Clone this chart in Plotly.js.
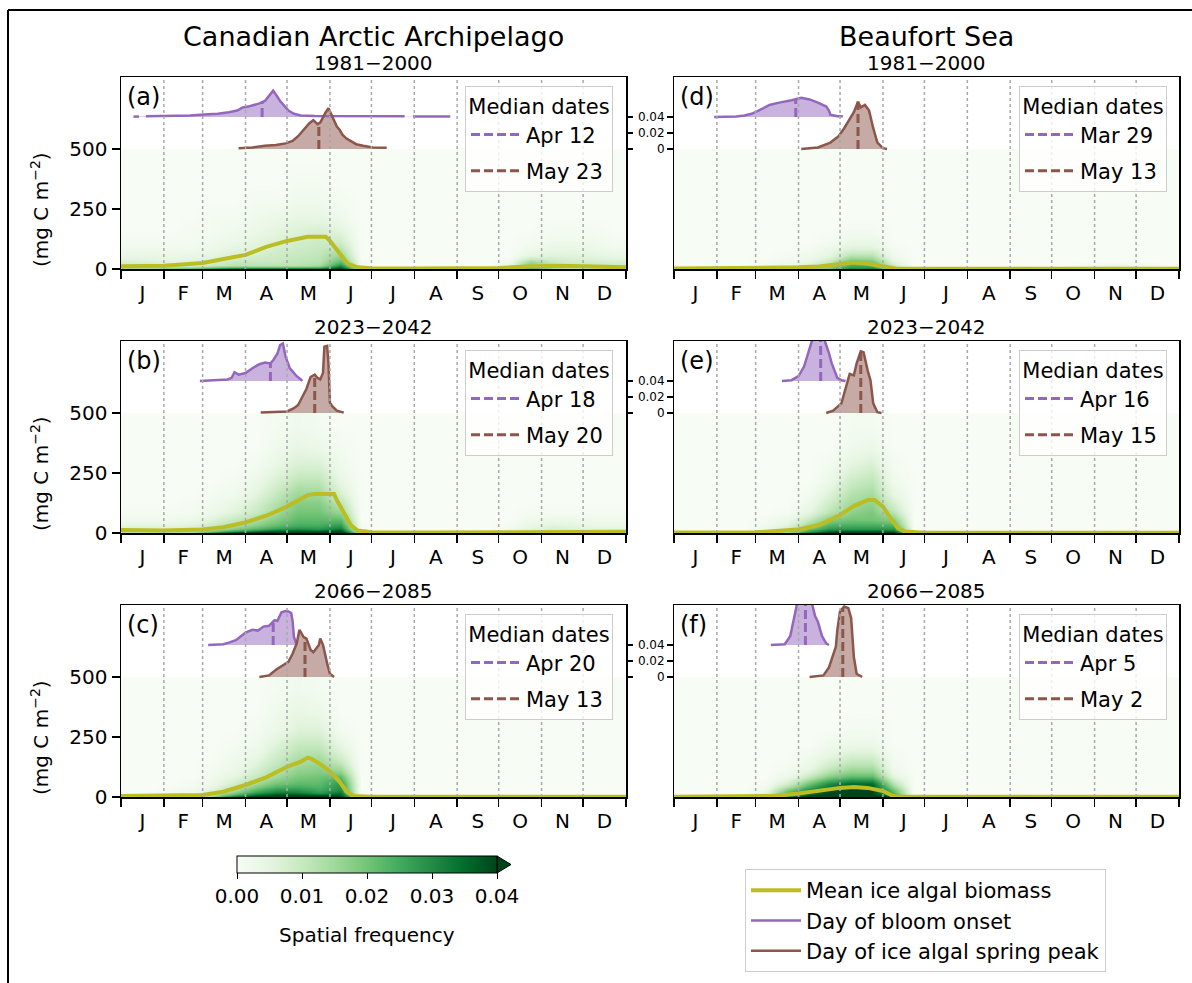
<!DOCTYPE html>
<html>
<head>
<meta charset="utf-8">
<script src="https://cdn.plot.ly/plotly-3.0.1.min.js"></script>
<style>html,body{margin:0;padding:0;background:#fff;}#chart{width:1192px;height:983px;}</style>
</head>
<body>
<div id="chart"></div>
<script>
// ---------------- DATA ----------------
const monthStarts = [0,31,59,90,120,151,181,212,243,273,304,334,365];
const monthLabels = ['J','F','M','A','M','J','J','A','S','O','N','D'];
const regionTitles = ['Canadian Arctic Archipelago','Beaufort Sea'];
const periodTitles = ['1981\u22122000','2023\u22122042','2066\u22122085'];
const panelLetters = ['(a)','(b)','(c)','(d)','(e)','(f)'];
const colorbarTitle = 'Spatial frequency';

// heatmap bin edges (day of year, biomass mg C m-2)
const heatDayEdges = [0,15,31,45,59,74,90,105,120,135,151,166,181,196,212,227,243,258,273,288,304,319,334,349,365];
const heatBiomassEdges = [0,8,20,40,70,100,140,190,250,320,400,500];

// spatial frequency (x 1e-3), rows = biomass bins (bottom to top), cols = half-month bins
const freqA = [
 [15,15,18,20,25,30,30,30,30,30,40,8,3,3,3,3,3,3,8,25,15,12,12,12],
 [10,10,8,8,10,12,12,12,12,14,30,2,0,0,0,0,0,0,5,20,12,10,10,10],
 [7,6,5,6,8,10,10,10,11,12,22,1,0,0,0,0,0,0,2,15,10,8,8,7],
 [4,4,3,4,5,7,8,9,10,11,16,0,0,0,0,0,0,0,0,5,6,6,5,4],
 [2,2,2,2,3,5,6,8,9,10,12,0,0,0,0,0,0,0,0,2,4,4,3,2],
 [1,1,1,1,2,3,5,6,8,9,8,0,0,0,0,0,0,0,0,1,2,2,2,1],
 [0,0,0,1,1,2,3,5,6,7,5,0,0,0,0,0,0,0,0,0,1,1,1,0],
 [0,0,0,0,1,1,2,3,4,4,2,0,0,0,0,0,0,0,0,0,0,0,0,0],
 [0,0,0,0,0,0,1,1,2,2,1,0,0,0,0,0,0,0,0,0,0,0,0,0],
 [0,0,0,0,0,0,0,0,1,1,0,0,0,0,0,0,0,0,0,0,0,0,0,0],
 [0,0,0,0,0,0,0,0,0,0,0,0,0,0,0,0,0,0,0,0,0,0,0,0]
];
const freqB = [
 [12,12,12,15,25,35,40,45,45,45,45,8,3,3,3,3,3,3,3,5,8,8,8,8],
 [8,8,8,10,14,20,25,30,32,30,35,2,0,0,0,0,0,0,2,6,8,7,6,6],
 [5,5,5,6,10,14,18,22,25,25,28,1,0,0,0,0,0,0,1,4,6,5,4,4],
 [2,2,2,3,6,10,14,18,22,22,22,0,0,0,0,0,0,0,0,2,3,3,2,2],
 [1,1,1,1,3,6,10,15,20,20,16,0,0,0,0,0,0,0,0,1,1,1,1,1],
 [0,0,0,1,2,4,8,13,18,18,12,0,0,0,0,0,0,0,0,0,0,0,0,0],
 [0,0,0,0,1,2,5,10,15,15,7,0,0,0,0,0,0,0,0,0,0,0,0,0],
 [0,0,0,0,0,1,3,7,11,11,4,0,0,0,0,0,0,0,0,0,0,0,0,0],
 [0,0,0,0,0,0,1,4,7,7,2,0,0,0,0,0,0,0,0,0,0,0,0,0],
 [0,0,0,0,0,0,0,2,4,3,1,0,0,0,0,0,0,0,0,0,0,0,0,0],
 [0,0,0,0,0,0,0,1,2,1,0,0,0,0,0,0,0,0,0,0,0,0,0,0]
];
const freqC = [
 [3,3,3,5,15,30,40,45,45,45,40,5,2,2,2,2,2,2,2,2,2,2,2,2],
 [1,1,2,3,10,20,30,35,35,30,35,1,0,0,0,0,0,0,0,0,0,0,0,0],
 [0,0,1,2,6,14,22,28,28,25,30,0,0,0,0,0,0,0,0,0,0,0,0,0],
 [0,0,0,1,3,8,15,20,22,22,28,0,0,0,0,0,0,0,0,0,0,0,0,0],
 [0,0,0,0,2,5,10,15,19,20,22,0,0,0,0,0,0,0,0,0,0,0,0,0],
 [0,0,0,0,1,3,7,12,16,17,14,0,0,0,0,0,0,0,0,0,0,0,0,0],
 [0,0,0,0,0,2,4,9,13,14,8,0,0,0,0,0,0,0,0,0,0,0,0,0],
 [0,0,0,0,0,1,2,6,10,10,4,0,0,0,0,0,0,0,0,0,0,0,0,0],
 [0,0,0,0,0,0,1,3,6,6,1,0,0,0,0,0,0,0,0,0,0,0,0,0],
 [0,0,0,0,0,0,0,2,4,3,0,0,0,0,0,0,0,0,0,0,0,0,0,0],
 [0,0,0,0,0,0,0,1,2,1,0,0,0,0,0,0,0,0,0,0,0,0,0,0]
];
const freqD = [
 [5,5,5,5,8,10,15,20,30,30,15,3,2,2,2,2,2,2,3,5,8,8,5,5],
 [0,0,0,0,2,4,8,15,25,25,10,0,0,0,0,0,0,0,0,2,4,4,2,1],
 [0,0,0,0,1,2,4,10,22,20,5,0,0,0,0,0,0,0,0,0,0,0,0,0],
 [0,0,0,0,0,1,2,5,12,12,2,0,0,0,0,0,0,0,0,0,0,0,0,0],
 [0,0,0,0,0,0,1,3,6,6,1,0,0,0,0,0,0,0,0,0,0,0,0,0],
 [0,0,0,0,0,0,0,1,3,3,0,0,0,0,0,0,0,0,0,0,0,0,0,0],
 [0,0,0,0,0,0,0,0,1,1,0,0,0,0,0,0,0,0,0,0,0,0,0,0],
 [0,0,0,0,0,0,0,0,0,0,0,0,0,0,0,0,0,0,0,0,0,0,0,0],
 [0,0,0,0,0,0,0,0,0,0,0,0,0,0,0,0,0,0,0,0,0,0,0,0],
 [0,0,0,0,0,0,0,0,0,0,0,0,0,0,0,0,0,0,0,0,0,0,0,0],
 [0,0,0,0,0,0,0,0,0,0,0,0,0,0,0,0,0,0,0,0,0,0,0,0]
];
const freqE = [
 [2,2,2,2,8,15,30,40,45,45,40,5,2,2,2,2,2,2,2,2,2,2,2,2],
 [0,0,0,0,4,10,22,30,30,30,30,1,0,0,0,0,0,0,0,0,0,0,0,0],
 [0,0,0,0,2,6,16,24,25,25,24,0,0,0,0,0,0,0,0,0,0,0,0,0],
 [0,0,0,0,1,3,10,18,20,20,18,0,0,0,0,0,0,0,0,0,0,0,0,0],
 [0,0,0,0,0,1,5,12,17,19,12,0,0,0,0,0,0,0,0,0,0,0,0,0],
 [0,0,0,0,0,0,3,9,15,17,8,0,0,0,0,0,0,0,0,0,0,0,0,0],
 [0,0,0,0,0,0,1,6,12,14,4,0,0,0,0,0,0,0,0,0,0,0,0,0],
 [0,0,0,0,0,0,0,3,9,11,2,0,0,0,0,0,0,0,0,0,0,0,0,0],
 [0,0,0,0,0,0,0,1,5,7,1,0,0,0,0,0,0,0,0,0,0,0,0,0],
 [0,0,0,0,0,0,0,0,2,3,0,0,0,0,0,0,0,0,0,0,0,0,0,0],
 [0,0,0,0,0,0,0,0,1,1,0,0,0,0,0,0,0,0,0,0,0,0,0,0]
];
const freqF = [
 [2,2,2,2,10,30,40,45,45,45,35,3,2,2,2,2,2,2,2,2,2,2,2,2],
 [0,0,0,0,6,25,35,40,40,40,25,0,0,0,0,0,0,0,0,0,0,0,0,0],
 [0,0,0,0,3,18,30,38,40,40,20,0,0,0,0,0,0,0,0,0,0,0,0,0],
 [0,0,0,0,1,8,20,30,35,35,12,0,0,0,0,0,0,0,0,0,0,0,0,0],
 [0,0,0,0,0,3,10,18,22,22,5,0,0,0,0,0,0,0,0,0,0,0,0,0],
 [0,0,0,0,0,1,4,10,14,14,2,0,0,0,0,0,0,0,0,0,0,0,0,0],
 [0,0,0,0,0,0,2,5,8,8,1,0,0,0,0,0,0,0,0,0,0,0,0,0],
 [0,0,0,0,0,0,0,2,3,3,0,0,0,0,0,0,0,0,0,0,0,0,0,0],
 [0,0,0,0,0,0,0,0,1,1,0,0,0,0,0,0,0,0,0,0,0,0,0,0],
 [0,0,0,0,0,0,0,0,0,0,0,0,0,0,0,0,0,0,0,0,0,0,0,0],
 [0,0,0,0,0,0,0,0,0,0,0,0,0,0,0,0,0,0,0,0,0,0,0,0]
];

// mean ice algal biomass (mg C m-2)
const meanDaysA = [0,31,59,74,90,105,120,135,148,151,158,164,171,181,212,243,273,293,314,334,365];
const meanValsA = [11,14,25,42,59,92,117,134,134,117,64,21,7,3,2,2,4,10,14,11,7];
const meanDaysB = [0,31,59,74,90,105,120,135,140,154,156,161,166,171,181,212,243,273,304,334,365];
const meanValsB = [12,10,15,24,44,72,110,158,162,162,137,82,33,10,3,2,2,3,6,6,5];
const meanDaysC = [0,31,59,74,90,105,120,130,135,138,145,151,158,163,168,181,365];
const meanValsC = [4,4,8,22,50,82,126,147,164,158,133,106,64,22,4,1,1];
const meanDaysD = [0,59,74,90,105,120,130,140,151,160,170,273,304,320,334,365];
const meanValsD = [2,3,4,7,10,20,27,22,10,2,1,1,2,3,2,1];
const meanDaysE = [0,59,79,90,105,120,130,140,145,151,157,162,167,181,365];
const meanValsE = [2,3,10,15,33,75,112,137,137,110,57,19,6,1,1];
const meanDaysF = [0,59,74,90,105,120,130,140,151,157,162,181,365];
const meanValsF = [1,2,5,15,28,38,42,38,25,8,1,1,1];

// distribution of day of bloom onset (probability density)
const onsetDaysA = [9,13,15,18,25,40,50,60,70,78,84,88,92,96,100,104,107,110,112,115,118,121,125,130,140,160,180,205,208,211,225,238];
const onsetDensA = [0.0005,0.0005,null,0.0008,0.001,0.0012,0.002,0.003,0.004,0.006,0.008,0.012,0.013,0.015,0.017,0.020,0.026,0.033,0.028,0.020,0.014,0.008,0.004,0.002,0.0012,0.001,0.0008,0.0008,null,0.0007,0.0006,0.0006];
const onsetDaysB = [57,65,72,77,80,82,85,90,95,100,104,108,110,113,115,117,119,122,124,127,130,131];
const onsetDensB = [0.0,0.001,0.001,0.002,0.004,0.011,0.008,0.010,0.016,0.021,0.023,0.022,0.026,0.034,0.045,0.047,0.030,0.016,0.012,0.006,0.002,0.0];
const onsetDaysC = [63,70,74,78,83,86,88,90,95,99,103,107,111,113,116,119,121,123,124,125,127];
const onsetDensC = [0.0,0.001,0.001,0.003,0.006,0.010,0.0125,0.0155,0.019,0.018,0.023,0.024,0.031,0.030,0.041,0.0425,0.042,0.040,0.030,0.010,0.0];
const onsetDaysD = [29,45,51,56,60,65,69,76,80,85,92,98,104,108,110,112,113,118,122];
const onsetDensD = [0.0,0.0005,0.002,0.004,0.007,0.011,0.015,0.018,0.019,0.021,0.024,0.022,0.018,0.015,0.013,0.008,0.003,0.001,0.001];
const onsetDaysE = [78,85,90,94,97,100,103,106,109,112,114,118,121,124];
const onsetDensE = [0.0,0.001,0.006,0.018,0.035,0.052,0.062,0.060,0.050,0.035,0.022,0.004,0.001,0.0];
const onsetDaysF = [70,80,84,87,89,92,95,98,100,102,104,107,110,112];
const onsetDensF = [0.0,0.001,0.011,0.036,0.052,0.062,0.065,0.060,0.050,0.036,0.029,0.011,0.002,0.0];

// distribution of day of ice algal spring peak (probability density)
const peakDaysA = [85,95,104,112,119,124,128,132,136,139,142,144,146,148,150,152,154,156,158,160,163,166,170,175,182,192];
const peakDensA = [0.001,0.002,0.004,0.005,0.007,0.010,0.016,0.024,0.032,0.036,0.031,0.033,0.040,0.046,0.051,0.044,0.036,0.028,0.024,0.018,0.013,0.010,0.006,0.004,0.002,0.0015];
const peakDaysB = [101,112,120,125,128,131,134,137,140,142,144,146,147,149,150,151,153,156,161];
const peakDensB = [0.0005,0.001,0.002,0.006,0.010,0.020,0.030,0.045,0.048,0.044,0.042,0.050,0.083,0.084,0.060,0.013,0.008,0.003,0.0005];
const peakDaysC = [100,107,112,117,121,124,127,129,132,134,137,139,143,144,146,149,151,154];
const peakDensC = [0.0,0.002,0.009,0.015,0.019,0.029,0.042,0.059,0.050,0.048,0.034,0.031,0.040,0.048,0.040,0.017,0.004,0.0];
const peakDaysD = [92,104,113,119,123,128,130,133,135,138,141,144,147,151,154];
const peakDensD = [0.0,0.002,0.008,0.016,0.026,0.040,0.046,0.059,0.052,0.055,0.048,0.026,0.008,0.001,0.0];
const peakDaysE = [110,115,121,124,127,130,132,135,137,140,142,144,147,150];
const peakDensE = [0.0,0.003,0.012,0.032,0.049,0.047,0.062,0.077,0.076,0.053,0.041,0.012,0.001,0.0];
const peakDaysF = [98,108,112,114,117,118,120,123,126,128,130,132,136];
const peakDensF = [0.0,0.002,0.012,0.023,0.038,0.058,0.082,0.088,0.086,0.074,0.025,0.004,0.0];

// median dates
const onsetMedianDays = [102,108,110,88,106,95];
const onsetMedianLabels = ['Apr 12','Apr 18','Apr 20','Mar 29','Apr 16','Apr 5'];
const peakMedianDays = [143,140,133,133,135,122];
const peakMedianLabels = ['May 23','May 20','May 13','May 13','May 15','May 2'];
const onsetOffset = 0.04; // onset distributions stacked above the peak distributions

const seriesNames = ['Mean ice algal biomass','Day of bloom onset','Day of ice algal spring peak'];

// ---------------- STYLE / LAYOUT ----------------
const W = 1192, H = 983;
const FONT = 'DejaVu Sans, Liberation Sans, sans-serif';
const FS = 20, LFS = 21;
const OLIVE = '#bcbd22', PURPLE = '#9467bd', BROWN = '#8c564b';
const greens = [[0,'#f7fcf5'],[0.125,'#e5f5e0'],[0.25,'#c7e9c0'],[0.375,'#a1d99b'],[0.5,'#74c476'],[0.625,'#41ab5d'],[0.75,'#238b45'],[0.875,'#006d2c'],[1,'#00441b']];
const px = p => p / W, py = p => 1 - p / H;

const colX = [[121,626],[674,1179]];
const rowY = [[77,269],[341,533],[605,797]];

const freqs = [freqA,freqB,freqC,freqD,freqE,freqF];
const meanD = [meanDaysA,meanDaysB,meanDaysC,meanDaysD,meanDaysE,meanDaysF];
const meanV = [meanValsA,meanValsB,meanValsC,meanValsD,meanValsE,meanValsF];
const onD = [onsetDaysA,onsetDaysB,onsetDaysC,onsetDaysD,onsetDaysE,onsetDaysF];
const onV = [onsetDensA,onsetDensB,onsetDensC,onsetDensD,onsetDensE,onsetDensF];
const pkD = [peakDaysA,peakDaysB,peakDaysC,peakDaysD,peakDaysE,peakDaysF];
const pkV = [peakDensA,peakDensB,peakDensC,peakDensD,peakDensE,peakDensF];

function valueAt(days, vals, d) {
  for (let k = 0; k < days.length - 1; k++) {
    if (vals[k] == null || vals[k+1] == null) continue;
    if (days[k] <= d && d <= days[k+1]) {
      const t = (d - days[k]) / (days[k+1] - days[k]);
      return vals[k] + t * (vals[k+1] - vals[k]);
    }
  }
  return 0;
}

const data = [];
const layout = {
  width: W, height: H, margin: {l:0,r:0,t:0,b:0},
  paper_bgcolor: '#fff', plot_bgcolor: '#fff',
  font: {family: FONT, color: '#000', size: FS},
  showlegend: true, shapes: [], annotations: []
};

const monthMids = monthLabels.map((_, i) => (monthStarts[i] + monthStarts[i+1]) / 2);
const legendNames = ['legend','legend2','legend3','legend4','legend5','legend6'];

for (let i = 0; i < 6; i++) {
  const col = i < 3 ? 0 : 1, row = i % 3;
  const n = i + 1, nd = i + 7;
  const xa = n === 1 ? 'x' : 'x' + n;
  const ya = n === 1 ? 'y' : 'y' + n;
  const yd = 'y' + nd;
  const xDom = [px(colX[col][0]), px(colX[col][1])];
  const yDom = [py(rowY[row][1]), py(rowY[row][0])];

  layout[n === 1 ? 'xaxis' : 'xaxis' + n] = {
    domain: xDom, anchor: ya, range: [0, 365], fixedrange: true,
    tickmode: 'array', tickvals: monthMids, ticktext: monthLabels, ticks: '',
    tickfont: {size: FS, color: '#000'}, ticklabelstandoff: 5,
    minor: {tickmode: 'array', tickvals: monthStarts, ticks: 'outside', ticklen: 8, tickwidth: 1.5, tickcolor: '#000', showgrid: false},
    showgrid: false, zeroline: false, showline: true, linecolor: '#000', linewidth: 1.5, mirror: true
  };
  layout[n === 1 ? 'yaxis' : 'yaxis' + n] = {
    domain: yDom, anchor: xa, range: [0, 800], fixedrange: true,
    tickmode: 'array', tickvals: [0, 250, 500], ticks: col === 0 ? 'outside' : '', ticklen: 8, tickwidth: 1.5, tickcolor: '#000',
    showticklabels: col === 0, tickfont: {size: FS, color: '#000'},
    showgrid: false, zeroline: false, showline: true, linecolor: '#000', linewidth: 1.5, mirror: true
  };
  layout['yaxis' + nd] = {
    overlaying: ya, anchor: xa, side: col === 0 ? 'right' : 'left', range: [-0.15, 0.09], fixedrange: true,
    tickmode: 'array', tickvals: [0, 0.02, 0.04], ticktext: ['0', '0.02', '0.04'],
    ticks: 'outside', ticklen: 6, tickwidth: 1.2, tickcolor: '#000',
    showticklabels: col === 1, tickfont: {size: 12, color: '#000'},
    showgrid: false, zeroline: false, showline: false
  };

  // heatmap of spatial frequency
  data.push({
    type: 'heatmap', xaxis: xa, yaxis: ya,
    x: heatDayEdges, y: heatBiomassEdges,
    z: freqs[i].map(r => r.map(v => v / 1000)),
    zmin: 0, zmax: 0.04, zsmooth: 'best', colorscale: greens,
    showscale: i === 0, hoverinfo: 'skip', showlegend: false,
    colorbar: {
      orientation: 'h', x: px(367), xanchor: 'center', len: 260 / W, lenmode: 'fraction',
      thickness: 17, y: py(856), yanchor: 'top', xpad: 0, ypad: 0,
      outlinewidth: 1, outlinecolor: '#000',
      tickmode: 'array', tickvals: [0, 0.01, 0.02, 0.03, 0.04], ticktext: ['0.00','0.01','0.02','0.03','0.04'],
      ticks: 'outside', ticklen: 6, tickcolor: '#000', tickfont: {size: FS, color: '#000', family: FONT}
    }
  });

  // mean biomass
  data.push({
    type: 'scatter', mode: 'lines', xaxis: xa, yaxis: ya,
    x: meanD[i], y: meanV[i], line: {color: OLIVE, width: 4},
    name: seriesNames[0], legend: 'legend7', legendgroup: 'mean', showlegend: i === 0, hoverinfo: 'skip'
  });

  // distributions: fill polygons
  const dists = [
    {days: pkD[i], vals: pkV[i], off: 0, color: BROWN, fill: 'rgba(140,86,75,0.5)', name: seriesNames[2], grp: 'peak', med: peakMedianDays[i], lab: peakMedianLabels[i]},
    {days: onD[i], vals: onV[i], off: onsetOffset, color: PURPLE, fill: 'rgba(148,103,189,0.5)', name: seriesNames[1], grp: 'onset', med: onsetMedianDays[i], lab: onsetMedianLabels[i]}
  ];
  dists.forEach(ds => {
    const fx = [], fy = [];
    ds.days.forEach((d, k) => { if (ds.vals[k] != null) { fx.push(d); fy.push(ds.vals[k] + ds.off); } });
    const polyX = fx.concat([fx[fx.length - 1], fx[0]]);
    const polyY = fy.concat([ds.off, ds.off]);
    data.push({type: 'scatter', mode: 'lines', xaxis: xa, yaxis: yd, x: polyX, y: polyY,
      fill: 'toself', fillcolor: ds.fill, line: {width: 0}, showlegend: false, hoverinfo: 'skip'});
  });
  // distribution outlines (onset first for legend order)
  [dists[1], dists[0]].forEach(ds => {
    data.push({type: 'scatter', mode: 'lines', xaxis: xa, yaxis: yd,
      x: ds.days, y: ds.vals.map(v => v == null ? null : v + ds.off), connectgaps: false,
      line: {color: ds.color, width: 2.5}, name: ds.name, legend: 'legend7', legendgroup: ds.grp,
      showlegend: i === 0, hoverinfo: 'skip'});
  });
  // median lines
  [dists[1], dists[0]].forEach((ds, k) => {
    const top = valueAt(ds.days, ds.vals, ds.med);
    data.push({type: 'scatter', mode: 'lines', xaxis: xa, yaxis: yd,
      x: [ds.med, ds.med], y: [ds.off, ds.off + top],
      line: {color: ds.color, width: 3, dash: '9px,4px'}, name: ds.lab,
      legend: legendNames[i], legendgroup: 'g' + i + k, showlegend: true, hoverinfo: 'skip'});
  });

  // legend box
  layout[legendNames[i]] = {
    x: px(col === 0 ? 613 : 1167), xanchor: 'right', y: py(rowY[row][0] + 9), yanchor: 'top',
    bgcolor: 'rgba(255,255,255,0.8)', bordercolor: '#cccccc', borderwidth: 1,
    font: {size: LFS, color: '#000', family: FONT}, itemwidth: 50, tracegroupgap: 6,
    title: {text: 'Median dates', side: 'top center', font: {size: LFS, color: '#000', family: FONT}}
  };

  // dotted month grid lines drawn above the heatmap
  monthStarts.slice(1, 12).forEach(s => {
    layout.shapes.push({type: 'line', xref: xa, yref: ya + ' domain', x0: s, x1: s, y0: 0, y1: 1,
      line: {color: '#a8a8a8', width: 1.5, dash: 'dot'}, layer: 'above'});
  });

  // panel letter
  layout.annotations.push({text: panelLetters[i], xref: 'paper', yref: 'paper',
    x: px(colX[col][0] + 4), y: py(rowY[row][0] + 4), xanchor: 'left', yanchor: 'top', showarrow: false,
    font: {size: 24, color: '#000', family: FONT}});
  // period subtitle
  layout.annotations.push({text: periodTitles[row], xref: 'paper', yref: 'paper',
    x: px((colX[col][0] + colX[col][1]) / 2), y: py(rowY[row][0] - 14), xanchor: 'center', yanchor: 'middle', showarrow: false,
    font: {size: FS, color: '#000', family: FONT}});
  if (col === 0) {
    layout.annotations.push({text: '(mg C m<sup>\u22122</sup>)', xref: 'paper', yref: 'paper',
      x: px(40), y: py(rowY[row][0] + 133), xanchor: 'center', yanchor: 'middle', textangle: -90, showarrow: false,
      font: {size: FS, color: '#000', family: FONT}});
  }
}

// region titles
regionTitles.forEach((t, c) => {
  layout.annotations.push({text: t, xref: 'paper', yref: 'paper',
    x: px((colX[c][0] + colX[c][1]) / 2), y: py(37), xanchor: 'center', yanchor: 'middle', showarrow: false,
    font: {size: 27, color: '#000', family: FONT}});
});

// colorbar title
layout.annotations.push({text: colorbarTitle, xref: 'paper', yref: 'paper',
  x: px(367), y: py(935), xanchor: 'center', yanchor: 'middle', showarrow: false,
  font: {size: FS, color: '#000', family: FONT}});

// bottom legend
layout.legend7 = {
  x: px(745), xanchor: 'left', y: py(869), yanchor: 'top',
  bgcolor: 'rgba(255,255,255,0.8)', bordercolor: '#cccccc', borderwidth: 1,
  font: {size: LFS, color: '#000', family: FONT}, itemwidth: 50, tracegroupgap: 0
};

// colorbar extension arrow
layout.shapes.push({type: 'path', xref: 'paper', yref: 'paper',
  path: `M ${px(497)},${py(856)} L ${px(511)},${py(864.5)} L ${px(497)},${py(873)} Z`,
  fillcolor: '#00441b', line: {color: '#000', width: 1}, layer: 'above'});

// figure frame
layout.shapes.push({type: 'line', xref: 'paper', yref: 'paper', x0: px(8), x1: 1, y0: py(10), y1: py(10), line: {color: '#000', width: 2}});
layout.shapes.push({type: 'line', xref: 'paper', yref: 'paper', x0: px(8), x1: px(8), y0: py(10), y1: 0, line: {color: '#000', width: 2}});

Plotly.newPlot('chart', data, layout, {staticPlot: true, displayModeBar: false});
</script>
</body>
</html>
